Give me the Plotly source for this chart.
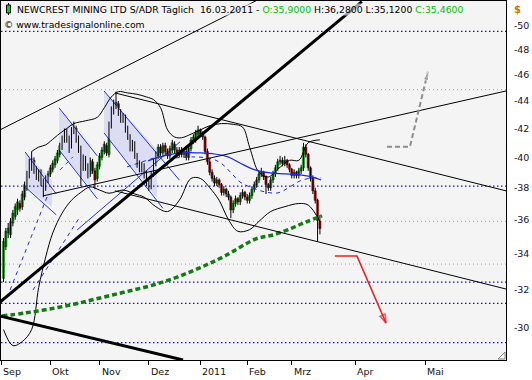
import numpy as np
import pandas as pd
import plotly.graph_objects as go

# ---------------- data ----------------
holidays = ["2010-09-06", "2010-11-25", "2010-12-24", "2011-01-17", "2011-02-21"]
dates = pd.bdate_range("2010-09-01", "2011-03-16")
dates = dates[~dates.isin(pd.to_datetime(holidays))]
N = len(dates)
bar = list(range(N))

opens = [32.6, 34.4, 35.2, 35.1, 35.8, 36.2, 36.6, 37.0, 36.8, 37.4, 38.0, 38.8, 39.3, 39.8, 39.1, 38.6, 39.0, 38.4, 38.0, 38.5,
         38.9, 39.2, 39.5, 39.8, 40.2, 40.7, 41.2, 41.8, 41.3, 40.8, 41.8, 42.0, 41.3, 40.6, 39.4, 39.9, 39.4, 38.9, 39.7, 39.1,
         38.6, 39.4, 40.0, 40.4, 40.8, 40.2, 42.2, 43.2, 43.7, 43.8, 43.2, 42.6, 42.9, 42.0, 41.4, 40.6, 41.0, 40.1, 39.6, 39.2,
         39.5, 38.9, 38.4, 38.1, 38.9, 39.6, 40.1, 40.7, 40.3, 40.8, 40.4, 40.1, 40.5, 40.9, 40.5, 40.2, 40.5, 40.2, 40.4, 40.0,
         40.6, 41.1, 41.2, 41.6, 41.9, 41.6, 41.4, 40.4, 39.7, 39.0, 38.6, 38.3, 38.5, 38.2, 37.7, 37.9, 37.6, 37.4, 36.6, 37.0,
         37.3, 37.1, 37.5, 37.7, 37.4, 37.2, 37.5, 37.9, 38.2, 38.5, 38.9, 39.0, 38.7, 38.2, 38.0, 38.5, 38.9, 39.3, 39.7, 39.8,
         39.6, 39.8, 39.5, 39.2, 38.8, 39.0, 38.8, 39.1, 39.3, 40.7, 40.2, 39.3, 38.6, 37.8, 37.2, 35.90]
highs = [34.9, 35.5, 35.8, 36.1, 36.6, 37.0, 37.3, 37.2, 37.8, 38.4, 39.1, 39.9, 40.4, 40.0, 39.4, 39.2, 39.2, 38.6, 38.8, 39.1,
         39.5, 39.8, 40.1, 40.5, 41.0, 41.5, 42.0, 42.0, 41.5, 42.1, 42.5, 42.2, 41.5, 40.8, 40.2, 40.1, 39.6, 40.0, 39.9, 39.3,
         39.7, 40.3, 40.7, 41.1, 41.0, 42.5, 43.6, 44.1, 44.7, 44.0, 43.4, 43.1, 43.0, 42.2, 41.6, 41.2, 41.1, 40.3, 39.8, 39.7,
         39.6, 39.1, 38.6, 39.1, 39.9, 40.4, 40.9, 40.9, 41.0, 41.0, 40.6, 40.8, 41.2, 41.1, 40.7, 40.7, 40.7, 40.6, 40.6, 40.8,
         41.4, 41.6, 41.9, 42.2, 42.0, 41.8, 41.5, 40.6, 39.9, 39.2, 38.8, 38.7, 38.6, 38.3, 38.1, 38.0, 37.8, 37.5, 37.2, 37.5,
         37.4, 37.7, 37.9, 37.8, 37.6, 37.7, 38.1, 38.4, 38.7, 39.1, 39.3, 39.1, 38.8, 38.3, 38.7, 39.1, 39.5, 39.9, 40.1, 40.0,
         40.1, 39.9, 39.6, 39.3, 39.2, 39.1, 39.3, 39.5, 41.0, 40.9, 40.3, 39.4, 38.8, 38.0, 37.3, 36.28]
lows = [32.4, 34.2, 34.9, 34.9, 35.6, 36.0, 36.3, 36.5, 36.6, 37.2, 37.8, 38.6, 39.1, 38.9, 38.5, 38.4, 38.1, 37.4, 37.8, 38.3,
        38.7, 39.0, 39.3, 39.6, 40.0, 40.5, 41.0, 41.0, 40.3, 40.6, 41.6, 41.0, 40.3, 38.1, 39.1, 39.1, 38.6, 38.7, 38.9, 37.9,
        38.4, 39.2, 39.8, 40.2, 40.1, 40.0, 42.0, 43.0, 43.4, 42.9, 42.4, 42.4, 41.7, 41.2, 40.4, 40.4, 39.9, 39.3, 39.0, 39.0,
        38.6, 38.1, 37.8, 37.9, 38.7, 39.4, 39.9, 40.1, 40.1, 40.2, 39.9, 39.9, 40.3, 40.3, 40.0, 40.0, 40.0, 40.0, 39.8, 39.8,
        40.4, 40.9, 41.0, 41.4, 41.4, 41.2, 40.2, 39.5, 38.8, 38.4, 38.1, 38.1, 38.0, 37.5, 37.5, 37.4, 37.2, 36.1, 36.4, 36.8,
        36.9, 36.9, 37.3, 37.2, 37.0, 37.0, 37.3, 37.7, 38.0, 38.3, 38.7, 38.5, 37.6, 37.8, 37.8, 38.3, 38.7, 39.1, 39.5, 39.4,
        39.4, 39.3, 39.0, 38.6, 38.6, 38.6, 38.6, 38.9, 39.1, 40.0, 39.1, 38.4, 37.6, 37.0, 34.7, 35.12]
closes = [34.7, 35.3, 35.5, 35.9, 36.4, 36.8, 37.1, 36.7, 37.6, 38.2, 38.9, 39.6, 39.9, 39.0, 38.7, 39.0, 38.3, 38.0, 38.6, 38.9,
          39.3, 39.6, 39.9, 40.3, 40.8, 41.3, 41.8, 41.2, 40.6, 41.9, 42.1, 41.2, 40.5, 39.4, 39.9, 39.3, 38.9, 39.8, 39.1, 38.5,
          39.5, 40.1, 40.5, 40.9, 40.3, 42.3, 43.4, 43.8, 43.9, 43.1, 42.6, 42.9, 41.9, 41.4, 40.6, 41.0, 40.1, 39.5, 39.2, 39.5,
          38.8, 38.3, 38.1, 38.9, 39.7, 40.2, 40.7, 40.3, 40.8, 40.4, 40.1, 40.6, 41.0, 40.5, 40.2, 40.5, 40.2, 40.4, 40.0, 40.6,
          41.2, 41.4, 41.7, 41.9, 41.6, 41.4, 40.4, 39.7, 39.0, 38.6, 38.3, 38.5, 38.2, 37.7, 37.9, 37.6, 37.4, 36.6, 37.0, 37.3,
          37.1, 37.5, 37.7, 37.4, 37.2, 37.5, 37.9, 38.2, 38.5, 38.9, 39.0, 38.7, 38.2, 38.0, 38.5, 38.9, 39.3, 39.7, 39.8, 39.6,
          39.8, 39.5, 39.2, 38.8, 39.0, 38.8, 39.1, 39.3, 40.7, 40.2, 39.3, 38.6, 37.8, 37.2, 35.95, 35.46]

# Bollinger bands (bar index, value)
bb_up_bar = [12, 15, 18, 20, 24, 27, 30, 35, 40, 43, 46, 49, 53, 57, 61, 64, 67, 70, 73, 76, 80, 84, 88, 93, 98, 102, 105,
             109, 113, 117, 122, 126, 130, 135]
bb_up = [40.4, 40.7, 40.85, 41.1, 41.65, 42.0, 42.35, 42.55, 42.8, 43.5, 44.3, 44.7, 44.6, 44.5, 44.3, 44.1, 43.5, 41.9,
         41.4, 41.35, 41.6, 41.9, 42.2, 42.35, 42.3, 42.1, 40.7, 39.0, 38.7, 39.2, 39.8, 39.8, 41.0, 41.2]
bb_lo_bar = [0, 4, 8, 12, 15, 18, 21, 25, 29, 33, 37, 41, 45, 51, 56, 60, 65, 70, 75, 80, 84, 88, 92, 96, 100, 105, 109,
             114, 120, 126, 130, 135]
bb_lo = [29.9, 29.1, 29.3, 29.9, 32.1, 33.8, 35.2, 36.4, 37.2, 37.7, 38.05, 37.85, 37.65, 37.85, 37.6, 37.4, 36.8, 36.5,
         37.2, 38.6, 38.6, 38.0, 37.2, 36.0, 35.3, 35.4, 35.9, 36.5, 36.8, 37.0, 36.9, 35.9]

# moving averages
ma_long_bar = [-0.6, 9.2, 19.8, 30.5, 41.2, 51.8, 62.5, 73.2, 83.8, 94.5, 107.7, 115, 122.2, 129, 135.9]
ma_long = [30.59, 30.75, 30.96, 31.22, 31.54, 31.86, 32.19, 32.63, 33.19, 33.86, 34.85, 35.08, 35.44, 35.86, 36.23]
ma_mid_bar = [61.7, 66.8, 75.3, 83.8, 90.2, 95.8, 100.9, 107.3, 113.7, 120.1, 126.5, 131.6, 135.5]
ma_mid = [39.76, 40.03, 40.30, 40.30, 40.23, 40.03, 39.62, 39.16, 38.96, 38.90, 38.83, 38.70, 38.50]
ma_short_bar = [73.2, 81.7, 89, 93.2, 97.5, 100.9, 105.2, 111.6, 117.1, 122.2, 126.5, 131.6, 135.5]
ma_short = [39.96, 40.03, 39.90, 39.56, 38.90, 38.37, 38.05, 37.73, 37.67, 38.05, 38.44, 38.63, 38.63]

# drawn trend lines: (bar0, price0, bar1, price1)
thin_lines = [(-1.5, 41.90, 108.6, 52.21),
              (47.6, 44.60, 214.4, 37.80),
              (47.6, 37.80, 214.4, 32.02),
              (16.9, 37.48, 214.4, 44.75)]
thick_lines = [(-1.5, 31.32, 152.9, 52.04),
               (-1.5, 30.59, 76.6, 28.40)]

# shaded correction channels (bar, price corners)
channels = [([9.2, 20.7, 20.7, 9.2], [40.37, 38.50, 36.79, 38.05]),
            ([23.7, 36.9, 36.9, 23.7], [43.49, 40.85, 38.05, 40.51]),
            ([42.9, 65.5, 65.5, 42.9], [44.75, 40.51, 37.35, 41.69])]
blue_solid = [(9.2, 40.37, 22.5, 37.6), (9.2, 38.05, 22.5, 36.3),
              (23.7, 43.49, 40.0, 40.1), (23.7, 40.51, 40.0, 37.3),
              (42.9, 44.75, 75.0, 38.5), (42.9, 41.69, 68.0, 36.7),
              (31.4, 35.38, 75.3, 41.06)]
blue_dashed = [(2.8, 31.97, 18.6, 37.42), (12.6, 31.97, 32.6, 36.17),
               (24.1, 39.16, 29.6, 40.03), (52.7, 39.36, 65.5, 40.03)]

# horizontal levels
blue_levels = [49.5, 38.1, 32.4, 31.25, 29.25]
pink_levels = [44.85, 35.9, 33.4]

# forecast arrows (bar, price)
red_arrow_bar = [141.4, 150.8, 163.2]
red_arrow_px = [33.86, 33.86, 30.23]
gray_arrow_bar = [163.6, 173.4, 181.1]
gray_arrow_px = [40.72, 40.72, 46.23]

month_labels = ["Sep", "Okt", "Nov", "Dez", "2011", "Feb", "Mrz", "Apr", "Mai"]
y_ticks = [30, 32, 34, 36, 38, 40, 42, 44, 46, 48, 50]

# ---------------- figure ----------------
W, H = 532, 380
PL, PR, PT, PB = 1, 506, 1, 360
XR = [-1.07, 214.4]
YR = [np.log10(28.40), np.log10(52.1)]

fig = go.Figure()


def add_line(xs, ys, color, width=1.0, dash=None, shape="linear"):
    fig.add_trace(go.Scatter(x=xs, y=ys, mode="lines",
                             line=dict(color=color, width=width, dash=dash, shape=shape),
                             hoverinfo="skip", showlegend=False))


for cx, cy in channels:
    fig.add_trace(go.Scatter(x=cx + [cx[0]], y=cy + [cy[0]], mode="lines", fill="toself",
                             fillcolor="#dcdcf2", line=dict(width=0), hoverinfo="skip", showlegend=False))

for lv in blue_levels:
    add_line([XR[0], XR[1]], [lv, lv], "#1010e0", 1.3, "1.5px,2.5px")
for lv in pink_levels:
    add_line([XR[0], XR[1]], [lv, lv], "#e08888", 1.0, "1px,3px")

for x0, y0, x1, y1 in blue_solid:
    add_line([x0, x1], [y0, y1], "#2030e0", 1.0)
for x0, y0, x1, y1 in blue_dashed:
    add_line([x0, x1], [y0, y1], "#2030e0", 1.0, "4px,4px")

# candles: wicks + bodies
wx, wy = [], []
for i in bar:
    wx += [i, i, None]
    wy += [lows[i], highs[i], None]
add_line(wx, wy, "black", 1.0)
body_base = [min(o, c) for o, c in zip(opens, closes)]
body_len = [max(abs(c - o), 0.03) for o, c in zip(opens, closes)]
body_col = ["#00e400" if c >= o else "#f40000" for o, c in zip(opens, closes)]
fig.add_trace(go.Bar(x=bar, y=body_len, base=body_base, width=0.95,
                     marker=dict(color=body_col, line=dict(color="#202020", width=0.45)),
                     hoverinfo="skip", showlegend=False))

add_line(bb_up_bar, bb_up, "black", 1.0, shape="spline")
add_line(bb_lo_bar, bb_lo, "black", 1.0, shape="spline")
add_line(ma_mid_bar, ma_mid, "#1a2ae0", 1.2, shape="spline")
add_line(ma_short_bar, ma_short, "#1a2ae0", 1.0, "4px,4px", shape="spline")
add_line(ma_long_bar, ma_long, "#157a15", 3.5, "5px,3px", shape="spline")

for x0, y0, x1, y1 in thin_lines:
    add_line([x0, x1], [y0, y1], "black", 1.0)
for x0, y0, x1, y1 in thick_lines:
    add_line([x0, x1], [y0, y1], "black", 3.0)

fig.add_trace(go.Scatter(x=red_arrow_bar, y=red_arrow_px, mode="lines+markers",
                         line=dict(color="#e82020", width=1.6),
                         marker=dict(symbol="arrow-open", size=[0, 0, 9], angleref="previous",
                                     color="#e82020", line=dict(color="#e82020", width=1.6)),
                         hoverinfo="skip", showlegend=False))
fig.add_trace(go.Scatter(x=gray_arrow_bar, y=gray_arrow_px, mode="lines+markers",
                         line=dict(color="#8c8c8c", width=2, dash="5px,3px"),
                         marker=dict(symbol="arrow", size=[0, 0, 9], angleref="previous", color="#8c8c8c"),
                         hoverinfo="skip", showlegend=False))

# month ticks
last_date = dates[-1]
tick_pos = []
for m in pd.date_range("2010-09-01", "2011-05-01", freq="MS"):
    if m <= last_date:
        tick_pos.append(int(np.searchsorted(dates, m)) - 1.0)
    else:
        tick_pos.append(N - 1 + (m - last_date).days - 1.0)

fig.update_xaxes(range=XR, showgrid=False, zeroline=False, showline=True, mirror=True, linecolor="black",
                 linewidth=1, ticks="outside", ticklen=4, tickcolor="black", tickvals=tick_pos,
                 showticklabels=False, rangeslider=dict(visible=False), fixedrange=True)
fig.update_yaxes(type="log", range=YR, side="right", showgrid=False, zeroline=False, showline=True, mirror=True,
                 linecolor="black", linewidth=1, ticks="", tickvals=y_ticks,
                 ticktext=["-" + str(v) for v in y_ticks], ticklabelstandoff=5,
                 tickfont=dict(family="DejaVu Sans", size=9.5, color="#111133"), fixedrange=True)


def px_x(p):
    return (p - PL) / (PR - PL)


def px_y(p):
    return 1 - (p - PT) / (PB - PT)


ann = []
for lab, tp in zip(month_labels, tick_pos):
    ann.append(dict(x=tp, xref="x", y=px_y(371), yref="paper", text=lab, showarrow=False, xanchor="left",
                    yanchor="middle", font=dict(family="DejaVu Sans", size=9.5, color="#111")))
header = ("NEWCREST MINING LTD S/ADR Täglich&nbsp;&nbsp;16.03.2011 - "
          "<span style='color:#00c000'>O:35,9000</span> H:36,2800 L:35,1200 "
          "<span style='color:#00c000'>C:35,4600</span>")
ann.append(dict(x=px_x(16), y=px_y(9), xref="paper", yref="paper", text=header, showarrow=False,
                xanchor="left", yanchor="middle", bgcolor="rgba(244,244,244,0.65)", borderpad=0,
                font=dict(family="DejaVu Sans", size=9.3, color="black")))
ann.append(dict(x=px_x(2), y=px_y(25), xref="paper", yref="paper", text="© www.tradesignalonline.com",
                showarrow=False, xanchor="left", yanchor="middle",
                font=dict(family="DejaVu Sans", size=9.3, color="black")))
ann.append(dict(x=px_x(512), y=px_y(9), xref="paper", yref="paper", text="<b>$</b>", showarrow=False,
                xanchor="left", yanchor="middle", font=dict(family="DejaVu Sans", size=10, color="#c87800")))

shapes = [
    dict(type="line", xref="paper", yref="paper", x0=px_x(8.5), x1=px_x(8.5), y0=px_y(3), y1=px_y(15),
         line=dict(color="black", width=1)),
    dict(type="rect", xref="paper", yref="paper", x0=px_x(6.5), x1=px_x(10.5), y0=px_y(5), y1=px_y(13),
         fillcolor="#00dd00", line=dict(color="black", width=1)),
    dict(type="path", xref="paper", yref="paper",
         path=f"M {px_x(505)} {px_y(352)} L {px_x(505)} {px_y(359)} L {px_x(498)} {px_y(359)} Z",
         fillcolor="white", line=dict(color="#808080", width=1)),
]

fig.update_layout(width=W, height=H, margin=dict(l=PL, r=W - PR, t=PT, b=H - PB),
                  paper_bgcolor="white", plot_bgcolor="#f4f4f4", showlegend=False, barmode="overlay",
                  annotations=ann, shapes=shapes, hovermode=False)

fig.write_html("out.html")
